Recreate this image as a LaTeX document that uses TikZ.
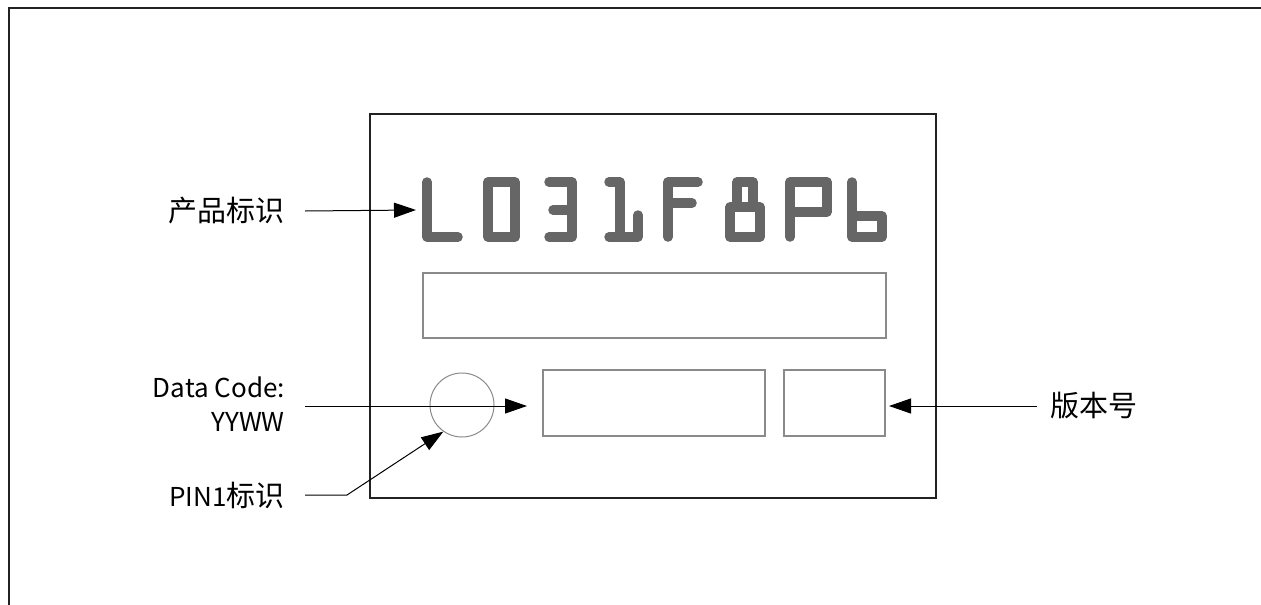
\documentclass[tikz,border=0pt]{standalone}
\usepackage{fontspec}
\setmainfont{Noto Sans CJK SC}
\usetikzlibrary{arrows.meta}
\definecolor{glyph}{HTML}{666666}
\definecolor{frame}{HTML}{222222}
\definecolor{boxgray}{HTML}{8A8A8A}
\newcommand{\cj}[1]{{\fontsize{29}{34}\selectfont #1}}
\begin{document}
\begin{tikzpicture}[x=1pt,y=-1pt,
  lbl/.style={font=\fontsize{26}{34}\selectfont, inner sep=0pt},
  seg/.style={draw=glyph, line width=9.5pt, line cap=round, line join=round},
  arr/.style={-{Triangle[length=22pt,width=15pt]}, line width=1pt, black},
  thinbox/.style={draw=boxgray, line width=1.3pt}]
\useasboundingbox (0,0) rectangle (1261,605);
% outer frame (top and left edges)
\draw[frame, line width=1.5pt] (9,605) -- (9,8) -- (1261,8);
% label box
\draw[frame, line width=1.2pt] (370,114) rectangle (936,498);
\node[thinbox, minimum width=463pt, minimum height=65pt, inner sep=0pt] (code) at (654.5,305.5) {};
\node[thinbox, minimum width=222pt, minimum height=66pt, inner sep=0pt] (dc) at (654,403) {};
\node[thinbox, minimum width=101pt, minimum height=66pt, inner sep=0pt] (ver) at (834.5,403) {};
\node[draw=boxgray, line width=1pt, circle, minimum size=64pt, inner sep=0pt] (pin) at (462,405) {};
% segment glyphs L031F8P6
\draw[seg] (427,182) -- (427,237) -- (458,237);
\draw[seg] (488,182) rectangle (515,237);
\draw[seg] (549,182) -- (572,182) -- (572,237) -- (549,237) (553,210) -- (572,210);
\draw[seg] (609,182) -- (620,182) -- (620,237) (609,237) -- (638,237) -- (638,215);
\draw[seg] (668,237) -- (668,182) -- (698,182) (668,203) -- (692,203);
\draw[seg] (737,207) -- (737,182) -- (753,182) -- (753,207);
\draw[seg] (730,207) rectangle (760,237);
\draw[seg] (790,237) -- (790,182) -- (827,182) -- (827,212) -- (790,212);
\draw[seg] (852,182) -- (852,237) -- (882,237) -- (882,216) -- (852,216);
\coordinate (glyphL) at (416,210);
% labels
\node[lbl, anchor=east] (prod) at (285,211) {\cj{产品标识}};
\node[lbl, anchor=east, align=right] (date) at (285,404) {Data Code:\\YYWW};
\node[lbl, anchor=east] (pin1) at (285,495) {PIN1\cj{标识}};
\node[lbl, anchor=west] (verl) at (1050,406) {\cj{版本号}};
% connectors
\coordinate (p1) at (305,211);
\draw[arr] (p1) -- (glyphL);
\coordinate (p2) at (305,406);
\coordinate (p2e) at (527,406);
\draw[arr] (p2) -- (p2e);
\coordinate (p3) at (1037,406);
\coordinate (p3e) at (889,406);
\draw[arr] (p3) -- (p3e);
\coordinate (p4) at (305,495);
\coordinate (p4b) at (347,495);
\draw[arr] (p4) -- (p4b) -- (pin.235);
\end{tikzpicture}
\end{document}
